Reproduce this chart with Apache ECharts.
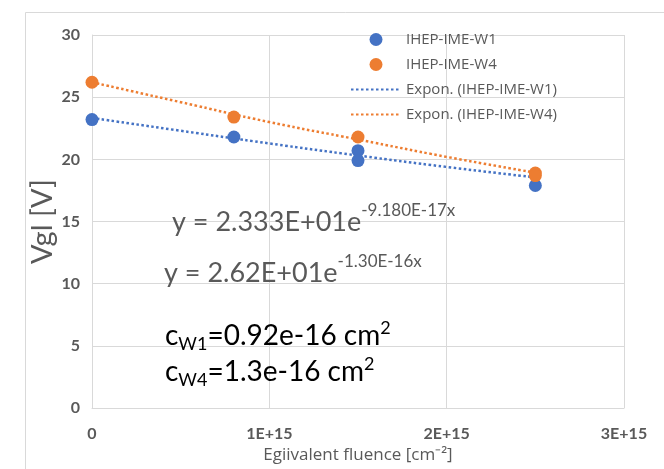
<!DOCTYPE html>
<html>
<head>
<meta charset="utf-8">
<script src="https://cdn.jsdelivr.net/npm/echarts@6/dist/echarts.min.js"></script>
<style>html,body{margin:0;padding:0;background:#fff;}#c{width:664px;height:469px;}</style>
</head>
<body>
<div id="c"></div>
<script>
// Data
var w1Points = [[0, 23.2], [0.8e15, 21.8], [1.5e15, 20.7], [1.5e15, 19.9], [2.5e15, 17.9]];
var w4Points = [[0, 26.2], [0.8e15, 23.4], [1.5e15, 21.8], [2.5e15, 18.9], [2.5e15, 18.7]];
var trendX = [0, 0.5e15, 1.0e15, 1.5e15, 2.0e15, 2.5e15];
var trendW1 = [23.33, 22.30, 21.28, 20.31, 19.39, 18.55];
var trendW4 = [26.2, 24.6, 23.0, 21.6, 20.2, 18.93];
var xTicks = ['0', '1E+15', '2E+15', '3E+15'];
var seriesNames = ['IHEP-IME-W1', 'IHEP-IME-W4', 'Expon. (IHEP-IME-W1)', 'Expon. (IHEP-IME-W4)'];

var BLUE = '#4472C4', ORANGE = '#ED7D31', GRAY = '#595959';
var FONT = 'Lato';
var SFONT = 'Open Sans';

function pairs(xs, ys) { return xs.map(function (x, i) { return [x, ys[i]]; }); }

var chart = echarts.init(document.getElementById('c'), null, { renderer: 'canvas' });
chart.setOption({
  backgroundColor: '#fff',
  animation: false,
  textStyle: { fontFamily: FONT },
  grid: { left: 92, right: 40, top: 35, bottom: 57, containLabel: false },
  legend: {
    orient: 'vertical', left: 345, top: 27, itemWidth: 50, itemHeight: 13, itemGap: 10,
    textStyle: { color: GRAY, fontSize: 15, fontFamily: SFONT },
    data: [
      { name: seriesNames[0], icon: 'circle' },
      { name: seriesNames[1], icon: 'circle' },
      { name: seriesNames[2], itemStyle: { opacity: 0 } },
      { name: seriesNames[3], itemStyle: { opacity: 0 } }
    ]
  },
  xAxis: {
    type: 'value', min: 0, max: 3e15, interval: 1e15,
    name: 'Egiivalent fluence [cm⁻²]', nameLocation: 'middle', nameGap: 34,
    nameTextStyle: { color: GRAY, fontSize: 17, fontFamily: SFONT },
    axisLine: { show: true, lineStyle: { color: '#d9d9d9', width: 1 } },
    axisTick: { show: false },
    splitLine: { show: true, lineStyle: { color: '#d9d9d9', width: 1 } },
    axisLabel: { color: GRAY, fontSize: 16, fontWeight: 'bold', margin: 18,
      formatter: function (v) { return xTicks[Math.round(v / 1e15)]; } }
  },
  yAxis: {
    type: 'value', min: 0, max: 30, interval: 5,
    name: 'Vgl [V]', nameLocation: 'middle', nameGap: 35, nameMoveOverlap: false,
    nameTextStyle: { color: GRAY, fontSize: 29, fontFamily: FONT },
    axisLine: { show: true, lineStyle: { color: '#d9d9d9', width: 1 } },
    axisTick: { show: false },
    splitLine: { show: true, lineStyle: { color: '#d9d9d9', width: 1 } },
    axisLabel: { color: GRAY, fontSize: 16, fontWeight: 'bold', margin: 12 }
  },
  series: [
    { name: seriesNames[2], type: 'line', data: pairs(trendX, trendW1), smooth: true, showSymbol: false, symbol: 'none',
      itemStyle: { color: BLUE }, lineStyle: { color: BLUE, width: 2.5, type: [2.5, 2.5] }, z: 2 },
    { name: seriesNames[3], type: 'line', data: pairs(trendX, trendW4), smooth: true, showSymbol: false, symbol: 'none',
      itemStyle: { color: ORANGE }, lineStyle: { color: ORANGE, width: 2.5, type: [2.5, 2.5] }, z: 2 },
    { name: seriesNames[0], type: 'scatter', data: w1Points, symbol: 'circle', symbolSize: 13,
      itemStyle: { color: BLUE, opacity: 1 }, z: 3 },
    { name: seriesNames[1], type: 'scatter', data: w4Points, symbol: 'circle', symbolSize: 13,
      itemStyle: { color: ORANGE, opacity: 1 }, z: 3 }
  ],
  graphic: [
    { type: 'rect', left: 23, top: 10, shape: { width: 700, height: 520 }, silent: true, z: -10,
      style: { fill: 'none', stroke: '#d9d9d9', lineWidth: 1 } },
    { type: 'text', left: 172, top: 202, z: 10,
      style: { text: '{m|y = 2.333E+01e}{s|-9.180E-17x}', fontFamily: FONT,
        rich: { m: { fontSize: 27, fontFamily: FONT, fill: GRAY, lineHeight: 34, verticalAlign: 'bottom' },
                s: { fontSize: 17, fontFamily: FONT, fill: GRAY, lineHeight: 18, verticalAlign: 'top' } } } },
    { type: 'text', left: 164, top: 253, z: 10,
      style: { text: '{m|y = 2.62E+01e}{s|-1.30E-16x}', fontFamily: FONT,
        rich: { m: { fontSize: 27, fontFamily: FONT, fill: GRAY, lineHeight: 34, verticalAlign: 'bottom' },
                s: { fontSize: 17, fontFamily: FONT, fill: GRAY, lineHeight: 18, verticalAlign: 'top' } } } },
    { type: 'text', left: 165, top: 319, z: 10,
      style: { text: '{m|c}{b|W1}{m|=0.92e-16 cm}{s|2}', fontFamily: FONT,
        rich: { m: { fontSize: 28, fontFamily: FONT, fill: '#000', lineHeight: 34, verticalAlign: 'middle' },
                b: { fontSize: 18, fontFamily: FONT, fill: '#000', lineHeight: 20, verticalAlign: 'bottom' },
                s: { fontSize: 18, fontFamily: FONT, fill: '#000', lineHeight: 20, verticalAlign: 'top' } } } },
    { type: 'text', left: 165, top: 355, z: 10,
      style: { text: '{m|c}{b|W4}{m|=1.3e-16 cm}{s|2}', fontFamily: FONT,
        rich: { m: { fontSize: 28, fontFamily: FONT, fill: '#000', lineHeight: 34, verticalAlign: 'middle' },
                b: { fontSize: 18, fontFamily: FONT, fill: '#000', lineHeight: 20, verticalAlign: 'bottom' },
                s: { fontSize: 18, fontFamily: FONT, fill: '#000', lineHeight: 20, verticalAlign: 'top' } } } }
  ]
});
</script>
</body>
</html>
